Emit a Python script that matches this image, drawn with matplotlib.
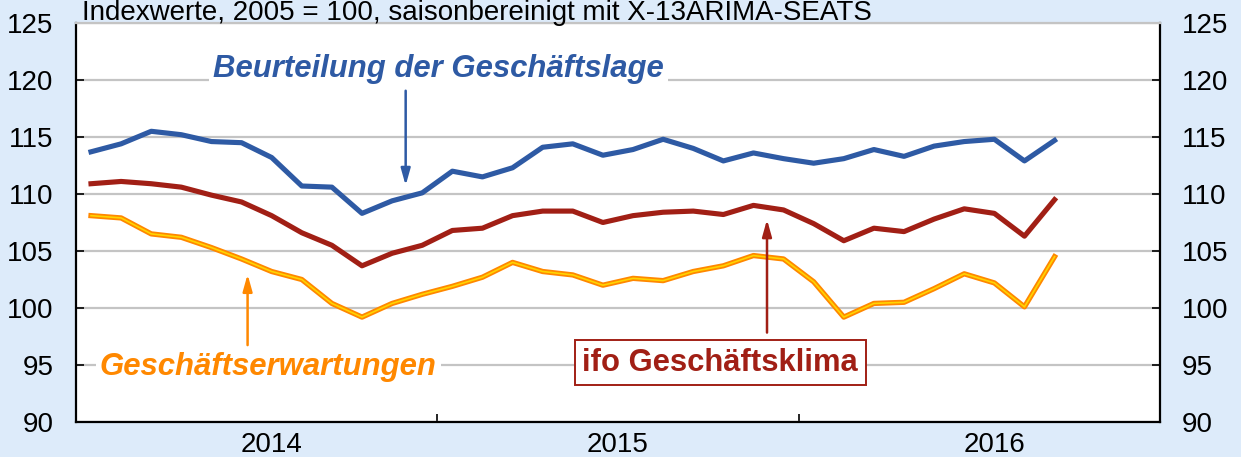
import matplotlib.pyplot as plt
import numpy as np

# ifo Geschaeftsklima, monthly Jan 2014 .. Sep 2016 (index 2005 = 100)
lage = [113.7, 114.4, 115.5, 115.2, 114.6, 114.5, 113.2, 110.7, 110.6, 108.3, 109.4, 110.1,
        112.0, 111.5, 112.3, 114.1, 114.4, 113.4, 113.9, 114.8, 114.0, 112.9, 113.6, 113.1,
        112.7, 113.1, 113.9, 113.3, 114.2, 114.6, 114.8, 112.9, 114.7]
klima = [110.9, 111.1, 110.9, 110.6, 109.9, 109.3, 108.1, 106.6, 105.5, 103.7, 104.8, 105.5,
         106.8, 107.0, 108.1, 108.5, 108.5, 107.5, 108.1, 108.4, 108.5, 108.2, 109.0, 108.6,
         107.4, 105.9, 107.0, 106.7, 107.8, 108.7, 108.3, 106.3, 109.5]
erwartungen = [108.1, 107.9, 106.5, 106.2, 105.3, 104.3, 103.2, 102.5, 100.4, 99.2, 100.4, 101.2,
               101.9, 102.7, 104.0, 103.2, 102.9, 102.0, 102.6, 102.4, 103.2, 103.7, 104.6, 104.3,
               102.3, 99.2, 100.4, 100.5, 101.7, 103.0, 102.2, 100.1, 104.5]
years = ["2014", "2015", "2016"]
yticks = [90, 95, 100, 105, 110, 115, 120, 125]

BLUE = "#2E5AA4"
RED = "#A11F15"
ORANGE = "#FF8800"
YELLOW = "#FFD500"
BG = "#DDEBFA"

plt.rcParams['font.family'] = ['Liberation Sans', 'DejaVu Sans']

fig = plt.figure(figsize=(12.41, 4.57), dpi=100, facecolor=BG)
ax = fig.add_axes([0.0612, 0.0766, 0.8735, 0.8731])
ax.set_facecolor("white")

x = np.arange(len(lage))
ax.plot(x, lage, color=BLUE, lw=3.7, solid_joinstyle='round', zorder=3)
ax.plot(x, klima, color=RED, lw=3.7, solid_joinstyle='round', zorder=3)
ax.plot(x, erwartungen, color=ORANGE, lw=3.8, solid_joinstyle='round', zorder=3)
ax.plot(x, erwartungen, color=YELLOW, lw=1.2, solid_joinstyle='round', zorder=4)

ax.set_xlim(-0.5, 35.5)
ax.set_ylim(90, 125)
ax.set_yticks(yticks)
ax.yaxis.grid(True, color="#C4C4C4", lw=1.6, zorder=0)
ax.set_axisbelow(True)

# year boundaries as major ticks, year labels as minor ticks
ax.set_xticks([-0.5, 11.5, 23.5, 35.5])
ax.set_xticklabels([])
ax.set_xticks([6.0, 17.5, 30.0], minor=True)
ax.set_xticklabels(years, minor=True)
ax.tick_params(axis='x', which='major', direction='in', length=6, width=1.2)
ax.tick_params(axis='x', which='minor', length=0, pad=7, labelsize=20)
ax.tick_params(axis='y', which='both', direction='in', length=6, width=1.2,
               left=True, right=True, labelleft=True, labelright=True, labelsize=20)
ax.tick_params(axis='y', which='major', pad=16)

for side in ["left", "right", "bottom"]:
    ax.spines[side].set_color("black")
    ax.spines[side].set_linewidth(1.6)
ax.spines["top"].set_color("#C4C4C4")
ax.spines["top"].set_linewidth(1.6)

fig.text(0.066, 0.957, "Indexwerte, 2005 = 100, saisonbereinigt mit X-13ARIMA-SEATS",
         fontsize=20, ha='left', va='baseline')

# annotations
head = "-|>,head_length=1.0,head_width=0.28"
ax.annotate("", xy=(10.45, 110.5), xytext=(10.45, 119.3),
            arrowprops=dict(arrowstyle=head, color=BLUE, lw=1.8), zorder=5)
ax.text(11.53, 120.26, "Beurteilung der Geschäftslage", color=BLUE, fontsize=22.4,
        fontweight='bold', style='italic', ha='center', va='baseline', zorder=6,
        bbox=dict(facecolor='white', edgecolor='none', pad=3))

ax.annotate("", xy=(5.2, 103.2), xytext=(5.2, 96.5),
            arrowprops=dict(arrowstyle=head, color=ORANGE, lw=1.8), zorder=5)
ax.text(5.88, 94.1, "Geschäftserwartungen", color=ORANGE, fontsize=22.4,
        fontweight='bold', style='italic', ha='center', va='baseline', zorder=6,
        bbox=dict(facecolor='white', edgecolor='none', pad=3))

ax.annotate("", xy=(22.45, 108.0), xytext=(22.45, 97.6),
            arrowprops=dict(arrowstyle=head, color=RED, lw=1.8), zorder=5)
ax.text(20.9, 94.5, "ifo Geschäftsklima", color=RED, fontsize=22.3,
        fontweight='bold', ha='center', va='baseline', zorder=6,
        bbox=dict(facecolor='white', edgecolor=RED, lw=1.4, boxstyle='square,pad=0.25'))

fig.savefig("out.png", dpi=100, facecolor=BG)
